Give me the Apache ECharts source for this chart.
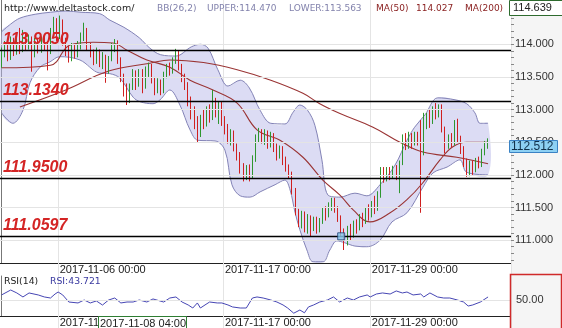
<!DOCTYPE html>
<html>
<head>
<meta charset="utf-8">
<script src="https://cdn.jsdelivr.net/npm/echarts@6/dist/echarts.min.js"></script>
<style>
  html, body { margin: 0; padding: 0; background: #fff; }
  #chart { width: 562px; height: 328px; }
</style>
</head>
<body>
<div id="chart"></div>
<script>
// ---- USD/JPY 4H data ----
// [open, close, low, high] per 4-hour bar, starting 2017-10-31 20:00
const candles = [
  [113.72,113.86,113.64,113.95],[113.86,113.95,113.80,114.05],[113.95,113.80,113.74,114.02],[113.80,114.00,113.76,114.12],
  [114.00,113.88,113.82,114.10],[113.88,114.05,113.84,114.15],[114.05,113.92,113.85,114.25],[113.92,114.10,113.88,114.22],
  [114.10,113.95,113.90,114.18],[113.95,114.08,113.92,114.15],[114.08,113.85,113.58,114.12],[113.85,114.02,113.80,114.10],
  [114.02,113.90,113.86,114.10],[113.90,114.05,113.87,114.12],[114.05,113.96,113.90,114.12],[113.96,113.88,113.60,114.05],
  [113.88,114.15,113.85,114.25],[114.15,114.30,114.10,114.42],[114.30,114.12,114.05,114.40],[114.12,114.35,114.08,114.44],
  [114.35,114.05,113.98,114.38],[114.05,113.90,113.82,114.10],[113.90,113.80,113.72,113.98],[113.80,113.95,113.74,114.02],
  [113.95,113.85,113.78,114.00],[113.85,113.98,113.80,114.05],[113.98,114.10,113.92,114.18],[114.10,114.22,114.05,114.33],
  [114.22,113.95,113.90,114.25],[113.95,113.86,113.80,114.02],[113.86,113.75,113.68,113.92],[113.75,113.88,113.70,113.95],
  [113.88,113.72,113.65,113.92],[113.72,113.80,113.62,113.88],[113.80,113.60,113.41,113.84],[113.60,113.78,113.55,113.82],
  [113.78,113.95,113.74,114.02],[113.95,114.05,113.88,114.08],[114.05,113.75,113.70,114.06],[113.75,113.50,113.42,113.80],
  [113.50,113.30,113.20,113.55],[113.30,113.15,113.07,113.40],[113.15,113.35,113.10,113.40],[113.35,113.55,113.30,113.62],
  [113.55,113.40,113.30,113.60],[113.40,113.58,113.35,113.62],[113.58,113.35,113.25,113.62],[113.35,113.60,113.32,113.66],
  [113.60,113.68,113.50,113.72],[113.68,113.45,113.40,113.70],[113.45,113.30,113.22,113.50],[113.30,113.42,113.25,113.48],
  [113.42,113.28,113.22,113.46],[113.28,113.52,113.25,113.58],[113.52,113.65,113.48,113.70],[113.65,113.58,113.52,113.72],
  [113.58,113.75,113.55,113.80],[113.75,113.88,113.70,113.93],[113.88,113.65,113.60,113.90],[113.65,113.50,113.42,113.70],
  [113.50,113.38,113.30,113.55],[113.38,113.15,113.05,113.42],[113.15,112.95,112.85,113.20],[112.95,112.80,112.70,113.05],
  [112.80,112.62,112.49,112.90],[112.62,112.85,112.58,112.92],[112.85,112.78,112.70,113.00],[112.78,113.00,112.74,113.05],
  [113.00,112.86,112.80,113.08],[112.86,113.12,112.84,113.30],[113.12,112.95,112.88,113.18],[112.95,113.08,112.78,113.12],
  [113.08,112.85,112.75,113.12],[112.85,112.70,112.62,112.90],[112.70,112.55,112.48,112.78],[112.55,112.65,112.45,112.70],
  [112.65,112.42,112.36,112.68],[112.42,112.30,112.22,112.48],[112.30,112.10,112.02,112.35],[112.10,112.00,111.90,112.18],
  [112.00,112.12,111.92,112.15],[112.12,111.98,111.90,112.16],[111.98,112.25,111.95,112.30],[112.25,112.55,112.20,112.62],
  [112.55,112.68,112.50,112.72],[112.68,112.55,112.48,112.70],[112.55,112.64,112.46,112.70],[112.64,112.48,112.40,112.68],
  [112.48,112.60,112.42,112.66],[112.60,112.42,112.35,112.64],[112.42,112.30,112.22,112.48],[112.30,112.40,112.25,112.45],
  [112.40,112.22,112.15,112.44],[112.22,112.12,112.05,112.28],[112.12,112.02,111.95,112.16],[112.02,111.75,111.70,112.05],
  [111.75,111.42,111.38,111.80],[111.42,111.30,111.20,111.48],[111.30,111.40,111.18,111.45],[111.40,111.22,111.12,111.44],
  [111.22,111.35,111.10,111.40],[111.35,111.20,111.05,111.38],[111.20,111.32,111.14,111.36],[111.32,111.15,111.10,111.36],
  [111.15,111.30,111.12,111.34],[111.30,111.45,111.25,111.50],[111.45,111.38,111.30,111.52],[111.38,111.52,111.35,111.58],
  [111.52,111.60,111.45,111.65],[111.60,111.48,111.42,111.65],[111.48,111.32,111.28,111.52],[111.32,111.12,111.05,111.38],
  [111.12,111.02,110.85,111.18],[111.02,111.18,110.92,111.22],[111.18,111.08,111.00,111.25],[111.08,111.25,111.04,111.30],
  [111.25,111.18,111.10,111.32],[111.18,111.35,111.15,111.40],[111.35,111.28,111.20,111.42],[111.28,111.45,111.25,111.50],
  [111.45,111.38,111.30,111.55],[111.38,111.55,111.35,111.60],[111.55,111.48,111.40,111.68],[111.48,111.70,111.45,111.75],
  [111.70,112.05,111.65,112.12],[112.05,111.95,111.88,112.12],[111.95,112.08,111.90,112.12],[112.08,111.98,111.92,112.12],
  [111.98,112.10,111.94,112.14],[112.10,112.00,111.92,112.15],[112.00,112.18,111.72,112.22],[112.18,112.55,112.15,112.62],
  [112.55,112.45,112.38,112.64],[112.45,112.60,112.40,112.66],[112.60,112.48,112.40,112.64],[112.48,112.62,112.45,112.66],
  [112.62,112.55,112.45,112.66],[112.55,112.38,111.42,112.84],[112.38,112.80,112.30,112.95],[112.80,112.90,112.70,112.95],
  [112.90,112.82,112.72,113.00],[112.82,113.00,112.78,113.05],[113.00,112.92,112.85,113.10],[112.92,113.05,112.88,113.08],
  [113.05,112.70,112.65,113.08],[112.70,112.45,112.33,112.74],[112.45,112.58,112.40,112.62],[112.58,112.48,112.42,112.64],
  [112.48,112.80,112.45,112.84],[112.80,112.55,112.50,112.86],[112.55,112.40,112.32,112.60],[112.40,112.20,112.12,112.44],
  [112.20,112.05,111.97,112.25],[112.05,112.18,111.98,112.22],[112.18,112.08,112.00,112.22],[112.08,112.22,112.04,112.26],
  [112.22,112.15,112.10,112.28],[112.15,112.35,112.12,112.40],[112.35,112.45,112.30,112.52],[112.45,112.512,112.40,112.56]
];

// Bollinger band (26,2) edges: [bar index, price]
const bbUpper = [
  [0,114.19],[3,114.31],[6,114.40],[11,114.46],[16,114.49],[21,114.51],[26,114.49],[32,114.47],
  [35.4,114.37],[40,114.26],[45,114.10],[48.5,113.94],[52,113.84],[57,113.82],[62,113.96],[65,114.00],
  [67.5,113.94],[70.7,113.61],[74,113.36],[78,113.45],[81,113.33],[84.5,112.99],[88,112.79],[92.6,112.78],
  [95.3,112.96],[97.5,113.07],[100,112.99],[102.4,112.76],[104.7,112.23],[106.7,111.69],[110.6,111.66],
  [115.5,111.72],[119.4,111.68],[123.7,111.85],[128.6,112.15],[132.5,112.53],[135,112.73],[138.4,112.92],
  [142.6,113.18],[148.2,113.15],[152,113.09],[154.7,112.95],[156.4,112.79],[159,112.79]
];
const bbLower = [
  [0,112.95],[3.7,112.79],[7,112.99],[9.3,113.41],[12.6,113.65],[15.8,113.73],[19,113.81],[25.6,113.76],
  [32,113.56],[35.4,113.55],[38.7,113.48],[43,113.19],[45.3,113.12],[49.5,113.09],[51.8,113.15],[55,113.30],
  [58.3,113.07],[61.6,112.69],[64.2,112.53],[69.8,112.52],[73,112.38],[75.3,111.85],[78,111.68],[81.2,111.66],
  [84.5,111.74],[89.4,111.85],[92.6,111.92],[94.3,111.77],[95.9,111.43],[97.5,111.16],[99.8,110.85],
  [101.8,110.67],[105.1,110.67],[107.3,110.85],[109.6,110.99],[112.2,110.96],[115.5,110.91],[119.4,110.90],
  [123.7,111.00],[127.6,111.28],[132.5,111.42],[137.7,111.81],[141,112.03],[145.6,112.12],[149.8,112.23],
  [152,112.04],[159,112.00]
];

// Moving averages: [bar index, price]
const maFast = [
  [0,113.64],[16,113.68],[22.4,113.99],[30,114.03],[36.4,114.02],[41,113.91],[47.5,113.76],[55,113.65],
  [61.6,113.45],[69.1,113.30],[77,113.10],[83.5,112.69],[91,112.53],[98.5,112.27],[105,111.92],[110.6,111.69],
  [115,111.46],[120.4,111.28],[127,111.42],[132.5,111.62],[137.7,111.88],[143.3,112.23],[147.5,112.43],
  [152,112.50],[159,112.50]
];
const maSlow = [
  [6,113.04],[21,113.30],[35,113.59],[48.5,113.71],[55,113.76],[66,113.72],[77,113.61],[88,113.45],
  [98.5,113.25],[104,113.09],[110.6,112.94],[121.4,112.73],[130.2,112.50],[137.7,112.35],[148.8,112.27],
  [159,112.17]
];

// RSI(14): [bar index, value]
const rsi = [
  [0,56.3],[3,62.5],[5,58.8],[7,53.8],[9,58.8],[12,56.3],[14,53.8],[16,52.5],[17.5,57.5],[18.5,60],[20,56.3],
  [22,47.5],[25,46.3],[27,50],[29,46.3],[31,48.8],[33,43.7],[35,50],[37,52.5],[39,46.3],[41,47.5],[43,47.5],
  [45,50],[47.5,47.5],[49.5,51.3],[53,47.5],[55,52.5],[57,53.8],[59,47.5],[61,43.8],[62.5,40],[64,46.3],
  [65,40],[66.5,43.8],[68,47.5],[70.5,46.3],[72,46.3],[74,43.8],[75.5,41.3],[78,40],[80,40],[82,52.5],
  [83.5,53.8],[85.5,52.5],[88,50],[90,47.5],[92,43.8],[93.5,40],[95.5,33.5],[97.5,37.5],[99,34],[100.3,41.3],
  [102,43.8],[104,47.5],[106.5,50],[108.5,53.8],[110.5,47.5],[113,52.5],[115,50],[117,53.8],[119.5,56.3],
  [120.5,53.8],[122.5,57.5],[124.5,58.8],[127,57.5],[129,61.3],[131,58.8],[132.5,60],[134.5,56.3],[137,57.5],
  [138,53.8],[140,58.8],[142.5,53.8],[144.5,52.5],[146.5,52.5],[149,50],[151,47.5],[152.5,42.5],[154,43.8],
  [156.5,47.5],[159,53.8]
];

// Horizontal support / resistance levels
const levels = [113.9050, 113.1340, 111.9500, 111.0597];
// Marked point on the lowest level: [bar index, price]
const markedPoint = [[111, 111.0597]];

// Axis ticks and labels
const priceTicks = [111.0, 111.5, 112.0, 112.5, 113.0, 113.5, 114.0];
const dateTicks = ['2017-11-06 00:00', '2017-11-17 00:00', '2017-11-29 00:00'];
const rsiTicks = [50];

// Readouts shown in the header rows and boxes
const siteText = 'http://www.deltastock.com/';
const bbHeader = ['BB(26,2)', 'UPPER:114.470', 'LOWER:113.563'];
const maHeader = ['MA(50)', '114.027', 'MA(200)'];
const rsiHeader = ['RSI(14)', 'RSI:43.721'];
const topPrice = '114.639';
const lastPrice = 112.512;
const cursorTime = '2017-11-08 04:00';

// ---- time slots: 4-hour bars, weekdays only ----
const SLOTS = 167;
const times = [];
(function () {
  let t = Date.UTC(2017, 9, 31, 20);
  const p = n => String(n).padStart(2, '0');
  while (times.length < SLOTS) {
    const d = new Date(t);
    const wd = d.getUTCDay();
    if (wd !== 0 && wd !== 6) {
      times.push(d.getUTCFullYear() + '-' + p(d.getUTCMonth() + 1) + '-' + p(d.getUTCDate()) +
        ' ' + p(d.getUTCHours()) + ':' + p(d.getUTCMinutes()));
    }
    t += 4 * 3600 * 1000;
  }
})();
const tickIdx = dateTicks.map(s => times.indexOf(s));
const isTick = idx => tickIdx.indexOf(idx) >= 0;

const minorTicks = [];
for (let k = 1107; k <= 1146; k++) minorTicks.push(k / 10);

const Y_MIN = 110.651, Y_MAX = 114.678;
const AXIS_FONT = 'Liberation Sans';
const SMALL_FONT = '"DejaVu Sans"';
const GRID_COLOR = '#e4e4e4';

const chart = echarts.init(document.getElementById('chart'), null, { renderer: 'canvas' });

function dateAxis(gridIndex, tickLen) {
  return {
    type: 'category', gridIndex, data: times, boundaryGap: true,
    axisLine: { show: true, lineStyle: { color: '#222', width: 1 } },
    axisTick: { show: true, interval: isTick, length: tickLen, lineStyle: { color: GRID_COLOR } },
    axisLabel: { interval: isTick, align: 'left', margin: 1, fontSize: 11, color: '#222', fontFamily: AXIS_FONT },
    splitLine: { show: true, interval: isTick, lineStyle: { color: GRID_COLOR } }
  };
}

const option = {
  animation: false,
  backgroundColor: '#fff',
  grid: [
    { left: 0, top: 0, right: 51, height: 263 },
    { left: 0, top: 276, right: 51, height: 40 }
  ],
  xAxis: [
    dateAxis(0, 13),
    { type: 'value', gridIndex: 0, min: -0.5, max: SLOTS - 0.5, show: false },
    dateAxis(1, 12),
    { type: 'value', gridIndex: 1, min: -0.5, max: SLOTS - 0.5, show: false }
  ],
  yAxis: [
    {
      type: 'value', gridIndex: 0, position: 'right', min: Y_MIN, max: Y_MAX,
      axisLine: { show: true, lineStyle: { color: '#777' } },
      axisTick: { show: true, customValues: priceTicks, length: 5, lineStyle: { color: '#777' } },
      axisLabel: { customValues: priceTicks, formatter: v => v.toFixed(3), margin: 4, fontSize: 11, color: '#333', fontFamily: AXIS_FONT },
      splitLine: { show: false }
    },
    {
      type: 'value', gridIndex: 0, position: 'right', min: Y_MIN, max: Y_MAX,
      axisLine: { show: false },
      axisTick: { show: true, customValues: minorTicks, length: 3, lineStyle: { color: '#888' } },
      axisLabel: { show: false },
      splitLine: { show: false }
    },
    {
      type: 'value', gridIndex: 1, position: 'right', min: 30, max: 80,
      axisLine: { show: true, lineStyle: { color: '#777' } },
      axisTick: { show: true, customValues: rsiTicks, length: 4, lineStyle: { color: '#777' } },
      axisLabel: { customValues: rsiTicks, formatter: v => v.toFixed(2), margin: 5, fontSize: 11, color: '#333', fontFamily: AXIS_FONT },
      splitLine: { show: false }
    }
  ],
  series: [
    { // price grid lines
      type: 'line', xAxisIndex: 1, yAxisIndex: 0, data: [], silent: true, z: 0,
      markLine: {
        silent: true, symbol: ['none', 'none'], animation: false,
        label: { show: false },
        lineStyle: { color: GRID_COLOR, width: 1, type: 'solid' },
        data: priceTicks.map(v => ({ yAxis: v }))
      }
    },
    { // Bollinger band fill
      type: 'custom', xAxisIndex: 1, yAxisIndex: 0, data: [[0, 112]], silent: true, z: 1, clip: true,
      renderItem: (params, api) => {
        const pts = bbUpper.map(p => api.coord(p))
          .concat(bbLower.slice().reverse().map(p => api.coord(p)));
        return {
          type: 'polygon',
          shape: { points: pts, smooth: 0.35 },
          style: { fill: 'rgba(186,186,234,0.5)', stroke: null }
        };
      }
    },
    {
      type: 'line', xAxisIndex: 1, yAxisIndex: 0, data: bbUpper, smooth: 0.35, symbol: 'none', z: 2,
      lineStyle: { color: '#8383b6', width: 1 }, silent: true
    },
    {
      type: 'line', xAxisIndex: 1, yAxisIndex: 0, data: bbLower, smooth: 0.35, symbol: 'none', z: 2,
      lineStyle: { color: '#8383b6', width: 1 }, silent: true
    },
    {
      type: 'line', xAxisIndex: 1, yAxisIndex: 0, data: maSlow, smooth: 0.4, symbol: 'none', z: 3,
      lineStyle: { color: '#9a3434', width: 1.1 }, silent: true
    },
    {
      type: 'line', xAxisIndex: 1, yAxisIndex: 0, data: maFast, smooth: 0.4, symbol: 'none', z: 3,
      lineStyle: { color: '#9a3434', width: 1.1 }, silent: true
    },
    {
      type: 'candlestick', xAxisIndex: 0, yAxisIndex: 0, data: candles, barWidth: 1.2, z: 4, silent: true,
      itemStyle: {
        color: '#2f962f', color0: '#cf2020',
        borderColor: '#2f962f', borderColor0: '#cf2020', borderWidth: 1
      }
    },
    {
      type: 'scatter', xAxisIndex: 1, yAxisIndex: 0, data: markedPoint, z: 6, silent: true,
      symbol: 'rect', symbolSize: 7,
      itemStyle: { color: '#86c9ee', borderColor: '#1d3f73', borderWidth: 1 },
      markLine: {
        silent: true, symbol: ['none', 'none'], animation: false,
        lineStyle: { color: '#000', width: 1.4, type: 'solid' },
        label: {
          show: true, position: 'insideStartTop', distance: [3, 3],
          color: '#d42424', fontFamily: AXIS_FONT, fontWeight: 'bold', fontStyle: 'italic', fontSize: 16
        },
        data: levels.map(v => ({ yAxis: v, label: { formatter: v.toFixed(4) } }))
      }
    },
    {
      type: 'line', xAxisIndex: 3, yAxisIndex: 2, data: rsi, symbol: 'none', z: 3, silent: true,
      lineStyle: { color: '#4646b4', width: 1 },
      markLine: {
        silent: true, symbol: ['none', 'none'], animation: false,
        label: { show: false },
        lineStyle: { color: GRID_COLOR, width: 1, type: 'solid' },
        data: rsiTicks.map(v => ({ yAxis: v }))
      }
    }
  ]
};

chart.setOption(option);

// ---- header texts, readout boxes, right-hand strip ----
const priceY = chart.convertToPixel({ yAxisIndex: 0 }, lastPrice);
const cursorX = chart.convertToPixel({ xAxisIndex: 2 }, times.indexOf(cursorTime));
const band = 511 / SLOTS;
const boxLeft = Math.round(cursorX - band / 2) + 0.5;

function txt(x, y, text, fill, font, z) {
  return { type: 'text', x, y, z: z || 50, silent: true,
    style: { text, fill, font, align: 'left', verticalAlign: 'middle' } };
}

const graphics = [
  { type: 'rect', z: -1, silent: true, shape: { x: 511, y: 0, width: 51, height: 328 }, style: { fill: '#f5f5f5' } },
  txt(4, 9, siteText, '#222', '9.5px ' + SMALL_FONT),
  txt(157, 9, bbHeader[0], '#8282ac', '9px ' + SMALL_FONT),
  txt(207, 9, bbHeader[1], '#8282ac', '9px ' + SMALL_FONT),
  txt(289, 9, bbHeader[2], '#8282ac', '9px ' + SMALL_FONT),
  txt(376, 9, maHeader[0], '#8b2222', '9px ' + SMALL_FONT),
  txt(416, 9, maHeader[1], '#8b2222', '9px ' + SMALL_FONT),
  txt(465, 9, maHeader[2], '#8b2222', '9px ' + SMALL_FONT),
  txt(4, 282, rsiHeader[0], '#222', '9.3px ' + SMALL_FONT),
  txt(50, 282, rsiHeader[1], '#3a3aa0', '9.3px ' + SMALL_FONT),
  // top readout box
  { type: 'rect', z: 60, silent: true, shape: { x: 509.5, y: 0.5, width: 60, height: 15 },
    style: { fill: '#fff', stroke: '#2e6b2e', lineWidth: 1 } },
  txt(513, 8, topPrice, '#222', '11px ' + AXIS_FONT, 61),
  // last price box
  { type: 'rect', z: 60, silent: true, shape: { x: 509.5, y: Math.round(priceY) - 0.5, width: 48, height: 12 },
    style: { fill: '#8dd0f3', stroke: '#3a82c4', lineWidth: 1 } },
  txt(511, Math.round(priceY) + 5.5, lastPrice.toFixed(3), '#10304a', '12px ' + AXIS_FONT, 61),
  // RSI value panel frame
  { type: 'rect', z: 60, silent: true, shape: { x: 510.5, y: 274.5, width: 51, height: 60 },
    style: { fill: null, stroke: '#d02a2a', lineWidth: 1.5 } },
  // time cursor box
  { type: 'rect', z: 60, silent: true, shape: { x: boxLeft, y: 316.5, width: 88, height: 14 },
    style: { fill: '#fff', stroke: '#2e7d32', lineWidth: 1 } },
  txt(boxLeft + 1.5, 323.5, cursorTime, '#222', '11px ' + AXIS_FONT, 61)
];
chart.setOption({ graphic: graphics });
</script>
</body>
</html>
